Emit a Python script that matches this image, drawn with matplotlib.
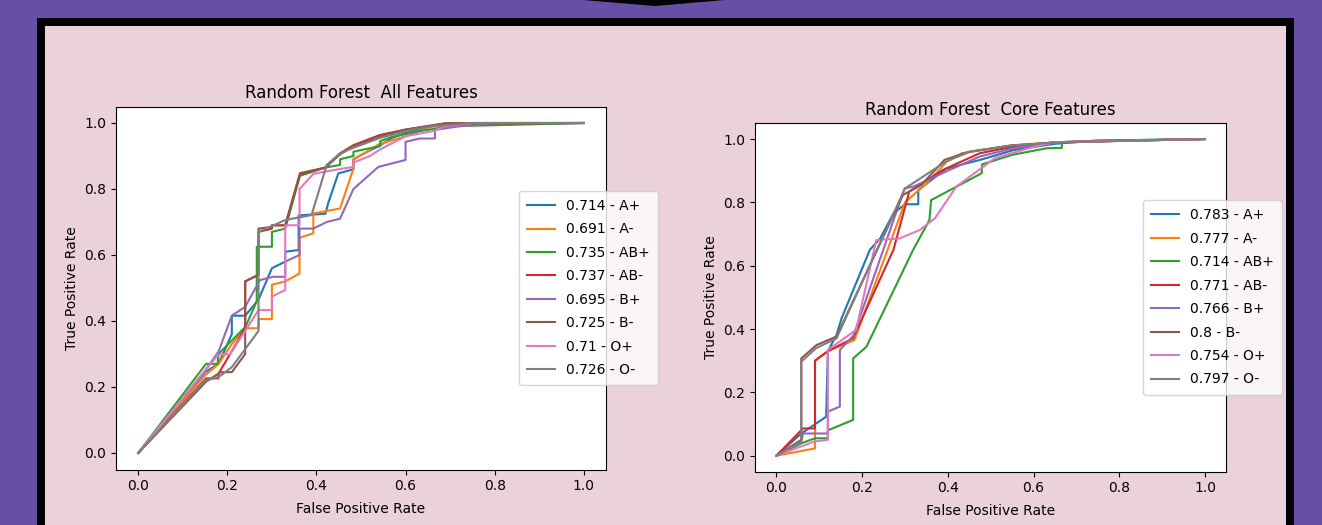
import numpy as np
import matplotlib
matplotlib.use('Agg')
import matplotlib.pyplot as plt
from matplotlib.patches import Rectangle, Polygon

# 基本参数
W, H = 1322, 525
PURPLE = '#674ea7'
PINK = '#ead1dc'

groups = ['A+', 'A-', 'AB+', 'AB-', 'B+', 'B-', 'O+', 'O-']
auc_all = [0.714, 0.691, 0.735, 0.737, 0.695, 0.725, 0.71, 0.726]
auc_core = [0.783, 0.777, 0.714, 0.771, 0.766, 0.8, 0.754, 0.797]

# ROC points (fpr, tpr) - all features
all_Ap = [(0, 0), (0.15, 0.245), (0.18, 0.27), (0.21, 0.36), (0.21, 0.416), (0.24, 0.416), (0.27, 0.465),
          (0.30, 0.56), (0.33, 0.58), (0.33, 0.61), (0.36, 0.615), (0.36, 0.72), (0.42, 0.725), (0.427, 0.76),
          (0.449, 0.847), (0.483, 0.86), (0.483, 0.89), (0.51, 0.91), (0.54, 0.93), (0.57, 0.955),
          (0.60, 0.97), (0.66, 0.99), (0.75, 0.995), (1, 1)]
all_Am = [(0, 0), (0.15, 0.235), (0.18, 0.27), (0.21, 0.33), (0.24, 0.378), (0.27, 0.378), (0.27, 0.406),
          (0.30, 0.406), (0.30, 0.51), (0.33, 0.52), (0.362, 0.544), (0.362, 0.652), (0.393, 0.666),
          (0.393, 0.726), (0.453, 0.741), (0.483, 0.862), (0.483, 0.89), (0.51, 0.91), (0.54, 0.935),
          (0.60, 0.96), (0.63, 0.975), (0.66, 0.99), (0.75, 1.0), (1, 1)]
all_ABp = [(0, 0), (0.152, 0.27), (0.178, 0.27), (0.18, 0.30), (0.241, 0.383), (0.266, 0.46), (0.266, 0.625),
           (0.30, 0.625), (0.30, 0.67), (0.33, 0.68), (0.363, 0.84), (0.42, 0.865), (0.453, 0.873),
           (0.453, 0.89), (0.483, 0.90), (0.483, 0.913), (0.543, 0.93), (0.543, 0.945), (0.57, 0.958),
           (0.63, 0.975), (0.70, 0.99), (1, 1)]
all_ABm = [(0, 0), (0.152, 0.226), (0.18, 0.226), (0.18, 0.24), (0.24, 0.378), (0.24, 0.52), (0.27, 0.54),
           (0.27, 0.67), (0.30, 0.68), (0.30, 0.69), (0.33, 0.69), (0.363, 0.845), (0.42, 0.865),
           (0.453, 0.908), (0.483, 0.933), (0.543, 0.964), (0.60, 0.98), (0.69, 0.999), (1, 1)]
all_Bp = [(0, 0), (0.15, 0.25), (0.18, 0.307), (0.21, 0.416), (0.24, 0.443), (0.273, 0.524), (0.303, 0.534),
          (0.33, 0.534), (0.33, 0.58), (0.362, 0.60), (0.362, 0.68), (0.393, 0.68), (0.423, 0.70),
          (0.453, 0.71), (0.483, 0.80), (0.539, 0.867), (0.60, 0.888), (0.60, 0.943), (0.632, 0.953),
          (0.666, 0.953), (0.666, 0.979), (0.72, 0.99), (0.80, 1.0), (1, 1)]
all_Bm = [(0, 0), (0.152, 0.216), (0.185, 0.245), (0.21, 0.245), (0.24, 0.30), (0.24, 0.52), (0.27, 0.54),
          (0.27, 0.68), (0.30, 0.685), (0.30, 0.69), (0.33, 0.69), (0.363, 0.848), (0.42, 0.865),
          (0.453, 0.905), (0.483, 0.93), (0.543, 0.96), (0.60, 0.98), (0.69, 0.999), (1, 1)]
all_Op = [(0, 0), (0.15, 0.25), (0.18, 0.299), (0.206, 0.299), (0.27, 0.433), (0.30, 0.433), (0.30, 0.474),
          (0.33, 0.494), (0.33, 0.69), (0.362, 0.69), (0.362, 0.80), (0.393, 0.846), (0.45, 0.86),
          (0.483, 0.867), (0.483, 0.88), (0.52, 0.90), (0.543, 0.92), (0.60, 0.96), (0.66, 0.975),
          (0.69, 0.99), (0.75, 1.0), (1, 1)]
all_Om = [(0, 0), (0.15, 0.22), (0.18, 0.23), (0.21, 0.26), (0.27, 0.37), (0.27, 0.67), (0.33, 0.706),
          (0.389, 0.721), (0.423, 0.873), (0.453, 0.908), (0.483, 0.925), (0.543, 0.955), (0.60, 0.975),
          (0.66, 0.99), (0.75, 1.0), (1, 1)]

# ROC points - core features
core_Ap = [(0, 0), (0.058, 0.07), (0.116, 0.123), (0.12, 0.33), (0.14, 0.38), (0.152, 0.434), (0.218, 0.65),
           (0.242, 0.686), (0.273, 0.765), (0.30, 0.794), (0.331, 0.794), (0.331, 0.839), (0.397, 0.907),
           (0.475, 0.934), (0.553, 0.965), (0.65, 0.985), (0.75, 0.995), (1, 1)]
core_Am = [(0, 0), (0.09, 0.023), (0.09, 0.30), (0.12, 0.33), (0.182, 0.365), (0.30, 0.80), (0.35, 0.86),
           (0.397, 0.928), (0.432, 0.955), (0.48, 0.965), (0.55, 0.98), (0.65, 0.99), (1, 1)]
core_ABp = [(0, 0), (0.058, 0.039), (0.09, 0.055), (0.12, 0.055), (0.12, 0.08), (0.179, 0.113),
            (0.179, 0.307), (0.21, 0.344), (0.319, 0.65), (0.357, 0.744), (0.361, 0.807), (0.479, 0.892),
            (0.48, 0.92), (0.55, 0.95), (0.631, 0.971), (0.666, 0.972), (0.666, 0.99), (0.75, 0.995), (1, 1)]
core_ABm = [(0, 0), (0.062, 0.086), (0.09, 0.086), (0.09, 0.30), (0.12, 0.33), (0.179, 0.371), (0.273, 0.65),
            (0.31, 0.834), (0.388, 0.902), (0.474, 0.955), (0.55, 0.975), (0.65, 0.99), (1, 1)]
core_Bp = [(0, 0), (0.058, 0.045), (0.062, 0.07), (0.12, 0.07), (0.12, 0.139), (0.148, 0.155),
           (0.148, 0.334), (0.18, 0.38), (0.299, 0.844), (0.32, 0.85), (0.40, 0.90), (0.475, 0.945),
           (0.55, 0.97), (0.65, 0.99), (1, 1)]
core_Bm = [(0, 0), (0.058, 0.05), (0.058, 0.307), (0.093, 0.349), (0.14, 0.376), (0.295, 0.823),
           (0.338, 0.855), (0.392, 0.934), (0.45, 0.96), (0.55, 0.98), (0.67, 0.99), (1, 1)]
core_Op = [(0, 0), (0.089, 0.045), (0.12, 0.05), (0.12, 0.334), (0.186, 0.397), (0.233, 0.681),
           (0.287, 0.686), (0.335, 0.713), (0.37, 0.75), (0.42, 0.85), (0.467, 0.897), (0.51, 0.94),
           (0.60, 0.975), (0.65, 0.99), (1, 1)]
core_Om = [(0, 0), (0.058, 0.045), (0.058, 0.297), (0.093, 0.34), (0.14, 0.37), (0.30, 0.844),
           (0.397, 0.93), (0.452, 0.96), (0.55, 0.98), (0.67, 0.99), (1, 1)]

curves_all = [all_Ap, all_Am, all_ABp, all_ABm, all_Bp, all_Bm, all_Op, all_Om]
curves_core = [core_Ap, core_Am, core_ABp, core_ABm, core_Bp, core_Bm, core_Op, core_Om]

fig = plt.figure(figsize=(W / 100, H / 100), dpi=100, facecolor=PURPLE)

# 背景框 (zorder below the axes)
def px_rect(x0, y0, x1, y1, color):
    fig.patches.append(Rectangle((x0 / W, 1 - y1 / H), (x1 - x0) / W, (y1 - y0) / H,
                                 transform=fig.transFigure, facecolor=color, edgecolor='none', zorder=-10))

px_rect(37, 18, 1294, 530, 'black')
px_rect(45, 26, 1286, 530, PINK)
fig.patches.append(Polygon([(583 / W, 1.0), (725 / W, 1.0), (655 / W, 1 - 6 / H)], closed=True,
                           transform=fig.transFigure, facecolor='black', edgecolor='none', zorder=-10))

ax1 = fig.add_axes([116 / W, 1 - 469.5 / H, 490 / W, 363 / H])
ax2 = fig.add_axes([755 / W, 1 - 471.5 / H, 471.4 / W, 348.3 / H])

for ax, curves, aucs, title in [(ax1, curves_all, auc_all, 'Random Forest  All Features'),
                                (ax2, curves_core, auc_core, 'Random Forest  Core Features')]:
    for pts, auc, g in zip(curves, aucs, groups):
        pts = np.array(pts)
        ax.plot(pts[:, 0], pts[:, 1], label=f'{auc} - {g}')
    ax.set_xlim(-0.05, 1.05)
    ax.set_ylim(-0.05, 1.05)
    ax.set_title(title)
    ax.set_xlabel('False Positive Rate', labelpad=6)
    ax.set_ylabel('True Positive Rate')
    ax.legend(loc='center left', bbox_to_anchor=(0.808, 0.5), labelspacing=0.68, borderpad=0.6)

fig.savefig('out.png', dpi=100, facecolor=PURPLE)
